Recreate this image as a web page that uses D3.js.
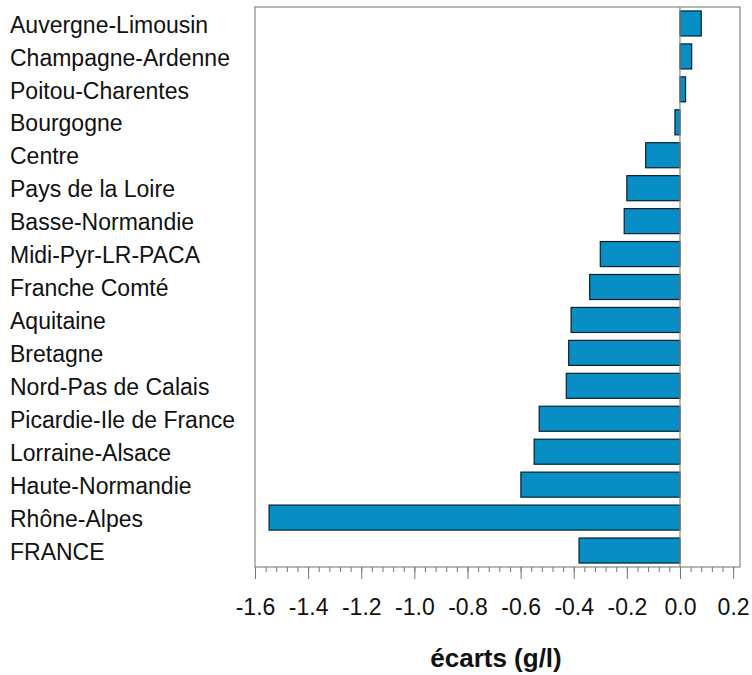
<!DOCTYPE html>
<html>
<head>
<meta charset="utf-8">
<script src="https://cdn.jsdelivr.net/npm/d3@7"></script>
<style>
  body { margin: 0; background: #fff; }
  text { font-family: "Liberation Sans", Arial, sans-serif; }
</style>
</head>
<body>
<div id="chart"></div>
<script>
var regions = ["Auvergne-Limousin", "Champagne-Ardenne", "Poitou-Charentes", "Bourgogne",
  "Centre", "Pays de la Loire", "Basse-Normandie", "Midi-Pyr-LR-PACA", "Franche Comté",
  "Aquitaine", "Bretagne", "Nord-Pas de Calais", "Picardie-Ile de France", "Lorraine-Alsace",
  "Haute-Normandie", "Rhône-Alpes", "FRANCE"];
var ecarts = [0.08, 0.044, 0.021, -0.019, -0.129, -0.20, -0.21, -0.30, -0.34,
  -0.41, -0.419, -0.428, -0.53, -0.549, -0.599, -1.547, -0.38];
var majorTicks = [-1.6, -1.4, -1.2, -1.0, -0.8, -0.6, -0.4, -0.2, 0.0, 0.2];

var width = 752, height = 675;
var margin = {top: 7, left: 255, right: 12, bottom: 108};

var svg = d3.select("#chart").append("svg")
  .attr("width", width)
  .attr("height", height);

var xScale = d3.scaleLinear()
  .domain([-1.6, 0.226])
  .range([margin.left, width - margin.right]);

var yScale = d3.scaleBand()
  .domain(regions)
  .range([margin.top, height - margin.bottom])
  .paddingInner(0.24)
  .paddingOuter(0.12);

// frame
svg.append("rect")
  .attr("x", margin.left)
  .attr("y", margin.top)
  .attr("width", width - margin.right - margin.left)
  .attr("height", height - margin.bottom - margin.top)
  .attr("fill", "none")
  .attr("stroke", "#888")
  .attr("stroke-width", 1.2);

// bars
svg.selectAll("rect.bar")
  .data(ecarts)
  .enter()
  .append("rect")
    .attr("class", "bar")
    .attr("x", function(d) { return xScale(Math.min(0, d)); })
    .attr("y", function(d, i) { return yScale(regions[i]); })
    .attr("width", function(d) { return Math.abs(xScale(d) - xScale(0)); })
    .attr("height", yScale.bandwidth())
    .attr("fill", "#068ec5")
    .attr("stroke", "#08202c")
    .attr("stroke-width", 1.2);

// zero line
svg.append("line")
  .attr("x1", xScale(0)).attr("x2", xScale(0))
  .attr("y1", margin.top).attr("y2", height - margin.bottom)
  .attr("stroke", "#888")
  .attr("stroke-width", 1.2);

// category labels
svg.selectAll("text.cat")
  .data(regions)
  .enter()
  .append("text")
    .attr("class", "cat")
    .attr("x", 10)
    .attr("y", function(d) { return yScale(d) + yScale.bandwidth() / 2; })
    .attr("dy", "0.4em")
    .attr("font-size", 23)
    .attr("fill", "#111")
    .text(function(d) { return d; });

// x axis: minor and major ticks
var axisY = height - margin.bottom;
svg.append("g")
  .attr("transform", `translate(0,${axisY})`)
  .call(d3.axisBottom(xScale)
    .tickValues(d3.range(-1.6, 0.2001, 0.04))
    .tickSize(5)
    .tickFormat(""))
  .call(function(g) {
    g.select(".domain").remove();
    g.selectAll("line").attr("stroke", "#777");
  });

svg.append("g")
  .attr("transform", `translate(0,${axisY})`)
  .call(d3.axisBottom(xScale)
    .tickValues(majorTicks)
    .tickSize(12)
    .tickPadding(20)
    .tickFormat(d3.format(".1f")))
  .call(function(g) {
    g.select(".domain").remove();
    g.selectAll("line").attr("stroke", "#777");
    g.selectAll("text")
      .attr("font-size", 23)
      .attr("fill", "#111")
      .attr("font-family", "Liberation Sans, Arial, sans-serif")
      .text(function(d) { return d3.format(".1f")(d).replace("−", "-"); });
  });

svg.append("text")
  .attr("x", 496)
  .attr("y", 667)
  .attr("text-anchor", "middle")
  .attr("font-size", 26)
  .attr("font-weight", "bold")
  .attr("fill", "#111")
  .text("écarts (g/l)");
</script>
</body>
</html>
